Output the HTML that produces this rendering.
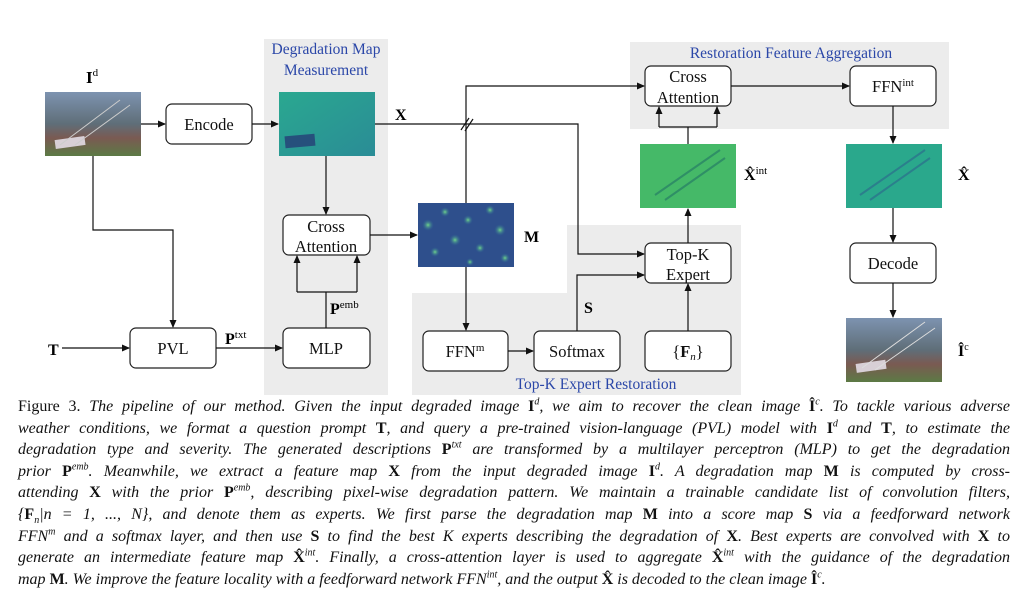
<!DOCTYPE html>
<html><head><meta charset="utf-8">
<style>
body{margin:0;background:#fff;width:1030px;height:613px;overflow:hidden;position:relative;font-family:"Liberation Serif",serif;}
svg{position:absolute;left:0;top:0}
.cap{position:absolute;left:18px;width:992px;font-size:16px;line-height:20px;white-space:nowrap;text-align:justify;text-align-last:justify;color:#111}
.cap i{font-style:italic}
.cap b{font-weight:bold;font-style:normal}
.last{text-align-last:left}
sup{font-size:10px;line-height:0}
sub{font-size:10px;line-height:0}
</style></head><body>
<svg width="1030" height="400" viewBox="0 0 1030 400" font-family="Liberation Serif, serif">
<defs>
<marker id="a" markerWidth="8" markerHeight="8" refX="7" refY="4" orient="auto" markerUnits="userSpaceOnUse"><path d="M0,0.5 L8,4 L0,7.5 z" fill="#111"/></marker>
<linearGradient id="gId" x1="0" y1="0" x2="0" y2="1"><stop offset="0" stop-color="#7d93b0"/><stop offset="0.5" stop-color="#5f6e78"/><stop offset="0.72" stop-color="#7a5a52"/><stop offset="1" stop-color="#5c7a45"/></linearGradient>
<linearGradient id="gX" x1="0" y1="0" x2="1" y2="1"><stop offset="0" stop-color="#2aa890"/><stop offset="1" stop-color="#2a8c96"/></linearGradient>
<radialGradient id="spot"><stop offset="0" stop-color="#6fd58a"/><stop offset="1" stop-color="#2a5f96" stop-opacity="0"/></radialGradient>
</defs>
<rect x="264" y="39" width="124" height="356" fill="#ececec"/>
<rect x="630" y="42" width="319" height="87" fill="#ececec"/>
<path d="M567,225 H741 V395 H412 V293 H567 Z" fill="#ececec"/>
<text x="326" y="54" font-size="15.5" fill="#2b47a8" text-anchor="middle">Degradation Map</text>
<text x="326" y="75" font-size="15.5" fill="#2b47a8" text-anchor="middle">Measurement</text>
<text x="791" y="58" font-size="15.5" fill="#2b47a8" text-anchor="middle">Restoration Feature Aggregation</text>
<text x="596" y="389" font-size="15.5" fill="#2b47a8" text-anchor="middle">Top-K Expert Restoration</text>
<rect x="45" y="92" width="96" height="64" fill="url(#gId)"/>
<rect x="55" y="138" width="30" height="9" fill="#d8cfd6" transform="rotate(-8 70 142)"/>
<path d="M60,145 L120,100 M75,145 L130,105" stroke="#ccc" stroke-width="1"/>
<rect x="279" y="92" width="96" height="64" fill="url(#gX)"/>
<rect x="285" y="135" width="30" height="12" fill="#26507c" transform="rotate(-5 300 141)"/>
<rect x="418" y="203" width="96" height="64" fill="#2e4f8c"/>
<g fill="url(#spot)"><circle cx="428" cy="225" r="6"/><circle cx="445" cy="212" r="5"/><circle cx="468" cy="220" r="5"/><circle cx="490" cy="210" r="5"/><circle cx="500" cy="230" r="6"/><circle cx="455" cy="240" r="6"/><circle cx="480" cy="248" r="5"/><circle cx="435" cy="252" r="5"/><circle cx="505" cy="258" r="5"/><circle cx="470" cy="262" r="4"/></g>
<rect x="640" y="144" width="96" height="64" fill="#45b968"/>
<path d="M655,195 L720,150 M665,200 L725,158" stroke="#2f8f66" stroke-width="2"/>
<rect x="846" y="144" width="96" height="64" fill="#2aa88c"/>
<path d="M860,195 L925,150 M870,200 L930,158" stroke="#2b7f8c" stroke-width="2"/>
<rect x="846" y="318" width="96" height="64" fill="url(#gId)"/>
<rect x="856" y="362" width="30" height="9" fill="#d8cfd6" transform="rotate(-8 870 366)"/>
<path d="M862,368 L925,322 M875,370 L935,328" stroke="#ddd" stroke-width="1"/>
<text x="86" y="83" font-size="17" font-weight="bold">I<tspan font-size="11" font-weight="normal" dy="-7">d</tspan></text>
<text x="395" y="120" font-size="16" font-weight="bold">X</text>
<text x="524" y="242" font-size="16" font-weight="bold">M</text>
<text x="48" y="355" font-size="16" font-weight="bold">T</text>
<text x="225" y="344" font-size="16" font-weight="bold">P<tspan font-size="11" font-weight="normal" dy="-6">txt</tspan></text>
<text x="330" y="314" font-size="16" font-weight="bold">P<tspan font-size="11" font-weight="normal" dy="-6">emb</tspan></text>
<text x="584" y="313" font-size="16" font-weight="bold">S</text>
<text x="744" y="180" font-size="16" font-weight="bold">X̂<tspan font-size="11" font-weight="normal" dy="-6">int</tspan></text>
<text x="958" y="180" font-size="16" font-weight="bold">X̂</text>
<text x="958" y="356" font-size="16" font-weight="bold">Î<tspan font-size="10" font-weight="normal" dy="-6">c</tspan></text>
<g fill="#fff" stroke="#222" stroke-width="1.2">
<rect x="166" y="104" width="86" height="40" rx="6"/>
<rect x="283" y="215" width="87" height="40" rx="6"/>
<rect x="130" y="328" width="86" height="40" rx="6"/>
<rect x="283" y="328" width="87" height="40" rx="6"/>
<rect x="645" y="66" width="86" height="40" rx="6"/>
<rect x="850" y="66" width="86" height="40" rx="6"/>
<rect x="645" y="243" width="86" height="40" rx="6"/>
<rect x="850" y="243" width="86" height="40" rx="6"/>
<rect x="423" y="331" width="85" height="40" rx="6"/>
<rect x="534" y="331" width="86" height="40" rx="6"/>
<rect x="645" y="331" width="86" height="40" rx="6"/>
</g>
<g font-size="16.5" text-anchor="middle" fill="#111">
<text x="209" y="130">Encode</text>
<text x="326" y="232">Cross</text><text x="326" y="252">Attention</text>
<text x="173" y="354">PVL</text>
<text x="326" y="354">MLP</text>
<text x="688" y="82">Cross</text><text x="688" y="103">Attention</text>
<text x="893" y="92">FFN<tspan font-size="11" dy="-6">int</tspan></text>
<text x="688" y="260">Top-K</text><text x="688" y="280">Expert</text>
<text x="893" y="269">Decode</text>
<text x="465" y="357">FFN<tspan font-size="11" dy="-6">m</tspan></text>
<text x="577" y="357">Softmax</text>
<text x="688" y="357">{<tspan font-weight="bold">F</tspan><tspan font-style="italic" font-size="11" dy="3">n</tspan><tspan dy="-3">}</tspan></text>
</g>
<g stroke="#111" stroke-width="1.2" fill="none">
<line x1="141" y1="124" x2="165" y2="124" marker-end="url(#a)"/>
<line x1="252" y1="124" x2="278" y2="124" marker-end="url(#a)"/>
<polyline points="93,156 93,230 173,230 173,327" marker-end="url(#a)"/>
<line x1="62" y1="348" x2="129" y2="348" marker-end="url(#a)"/>
<line x1="216" y1="348" x2="282" y2="348" marker-end="url(#a)"/>
<line x1="326" y1="156" x2="326" y2="214" marker-end="url(#a)"/>
<line x1="326" y1="328" x2="326" y2="292"/>
<polyline points="297,292 357,292"/>
<line x1="297" y1="292" x2="297" y2="256" marker-end="url(#a)"/>
<line x1="357" y1="292" x2="357" y2="256" marker-end="url(#a)"/>
<line x1="370" y1="235" x2="417" y2="235" marker-end="url(#a)"/>
<polyline points="466,203 466,86 644,86" marker-end="url(#a)"/>
<polyline points="375,124 578,124 578,254 644,254" marker-end="url(#a)"/>
<line x1="461" y1="130" x2="469" y2="118"/><line x1="465" y1="131" x2="473" y2="119"/>
<line x1="466" y1="267" x2="466" y2="330" marker-end="url(#a)"/>
<line x1="508" y1="351" x2="533" y2="351" marker-end="url(#a)"/>
<polyline points="577,331 577,275 644,275" marker-end="url(#a)"/>
<line x1="688" y1="331" x2="688" y2="284" marker-end="url(#a)"/>
<line x1="688" y1="243" x2="688" y2="209" marker-end="url(#a)"/>
<line x1="688" y1="144" x2="688" y2="127"/>
<polyline points="659,127 717,127"/>
<line x1="659" y1="127" x2="659" y2="107" marker-end="url(#a)"/>
<line x1="717" y1="127" x2="717" y2="107" marker-end="url(#a)"/>
<line x1="731" y1="86" x2="849" y2="86" marker-end="url(#a)"/>
<line x1="893" y1="106" x2="893" y2="143" marker-end="url(#a)"/>
<line x1="893" y1="208" x2="893" y2="242" marker-end="url(#a)"/>
<line x1="893" y1="283" x2="893" y2="317" marker-end="url(#a)"/>
</g>
</svg>
<div class="cap" style="top:397px">Figure 3. <i>The pipeline of our method. Given the input degraded image <b>I</b><sup>d</sup>, we aim to recover the clean image <b>Î</b><sup>c</sup>. To tackle various adverse</i></div>
<div class="cap" style="top:418.6px"><i>weather conditions, we format a question prompt <b>T</b>, and query a pre-trained vision-language (PVL) model with <b>I</b><sup>d</sup> and <b>T</b>, to estimate the</i></div>
<div class="cap" style="top:440.2px"><i>degradation type and severity. The generated descriptions <b>P</b><sup>txt</sup> are transformed by a multilayer perceptron (MLP) to get the degradation</i></div>
<div class="cap" style="top:461.8px"><i>prior <b>P</b><sup>emb</sup>. Meanwhile, we extract a feature map <b>X</b> from the input degraded image <b>I</b><sup>d</sup>. A degradation map <b>M</b> is computed by cross-</i></div>
<div class="cap" style="top:483.4px"><i>attending <b>X</b> with the prior <b>P</b><sup>emb</sup>, describing pixel-wise degradation pattern. We maintain a trainable candidate list of convolution filters,</i></div>
<div class="cap" style="top:505px"><i>{<b>F</b><sub>n</sub>|n = 1, ..., N}, and denote them as experts. We first parse the degradation map <b>M</b> into a score map <b>S</b> via a feedforward network</i></div>
<div class="cap" style="top:526.6px"><i>FFN<sup>m</sup> and a softmax layer, and then use <b>S</b> to find the best K experts describing the degradation of <b>X</b>. Best experts are convolved with <b>X</b> to</i></div>
<div class="cap" style="top:548.2px"><i>generate an intermediate feature map <b>X̂</b><sup>int</sup>. Finally, a cross-attention layer is used to aggregate <b>X̂</b><sup>int</sup> with the guidance of the degradation</i></div>
<div class="cap last" style="top:569.8px"><i>map <b>M</b>. We improve the feature locality with a feedforward network FFN<sup>int</sup>, and the output <b>X̂</b> is decoded to the clean image <b>Î</b><sup>c</sup>.</i></div>
</body></html>
